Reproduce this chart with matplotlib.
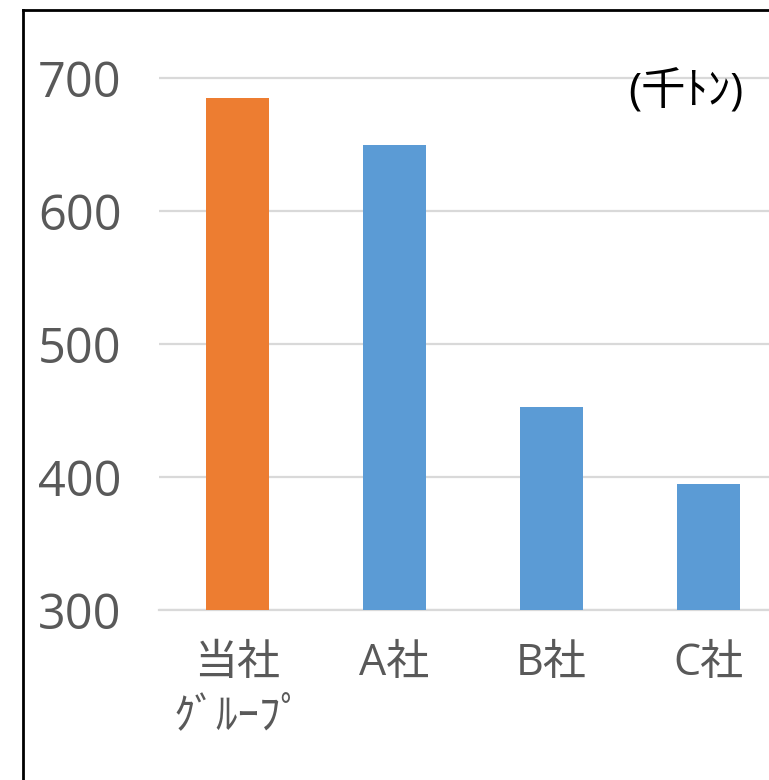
import matplotlib
matplotlib.use("Agg")
import matplotlib.pyplot as plt
from matplotlib.lines import Line2D

plt.rcParams['font.family'] = ['Open Sans', 'Noto Sans CJK JP', 'DejaVu Sans']

# data
companies = ["当社\nｸﾞﾙｰﾌﾟ", "A社", "B社", "C社"]
volumes = [685, 650, 453, 395]
bar_colors = ["#ED7D31", "#5B9BD5", "#5B9BD5", "#5B9BD5"]
y_ticks = [300, 400, 500, 600, 700]
unit_label = "(千ﾄﾝ)"

W, H = 769, 780
fig = plt.figure(figsize=(W / 100, H / 100), dpi=100)

# axes placed in pixel terms (extends past right edge like the source)
left_px, right_px = 159, 787
top_px, bottom_px = 11.5, 610
ax = fig.add_axes([left_px / W, 1 - bottom_px / H,
                   (right_px - left_px) / W, (bottom_px - top_px) / H])

x = range(len(companies))
ax.bar(x, [v - 300 for v in volumes], bottom=300, width=0.4,
       color=bar_colors, zorder=3)

ax.set_xlim(-0.5, len(companies) - 0.5)
ax.set_ylim(300, 750)
ax.set_yticks(y_ticks)
ax.set_yticklabels([str(t) for t in y_ticks], fontsize=35)
ax.set_xticks(list(x))
ax.set_xticklabels(companies, linespacing=1.25, fontsize=31)

ax.grid(axis='y', color='#D9D9D9', linewidth=1.6, zorder=0)
for s in ['top', 'right', 'left']:
    ax.spines[s].set_visible(False)
ax.spines['bottom'].set_color('#D9D9D9')
ax.spines['bottom'].set_linewidth(1.6)
ax.tick_params(axis='both', length=0, labelcolor='#595959')
ax.tick_params(axis='y', pad=27)
ax.tick_params(axis='x', pad=23)

fig.text(686 / W, 1 - 93 / H, unit_label, fontsize=32, color='black',
         ha='center', va='center')

# outer frame (only left and top edges visible in source)
fig.add_artist(Line2D([23 / W, 23 / W], [0, 1 - 10 / H], color='black',
                      linewidth=2, transform=fig.transFigure))
fig.add_artist(Line2D([23 / W, 1], [1 - 10 / H, 1 - 10 / H], color='black',
                      linewidth=2, transform=fig.transFigure))

fig.savefig("out.png", dpi=100, facecolor='white')
